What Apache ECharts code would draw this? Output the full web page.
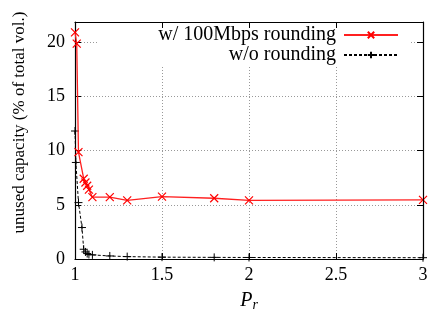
<!DOCTYPE html>
<html>
<head>
<meta charset="utf-8">
<script src="https://cdn.jsdelivr.net/npm/echarts@6/dist/echarts.min.js"></script>
<style>
  html, body { margin: 0; padding: 0; background: #fff; }
  #chart { width: 433px; height: 320px; }
</style>
</head>
<body>
<div id="chart"></div>
<script>
// values
const roundedPr = [1.0, 1.01, 1.02, 1.05, 1.06, 1.07, 1.08, 1.1, 1.2, 1.3, 1.5, 1.8, 2.0, 3.0];
const roundedUnused = [20.9, 19.85, 9.85, 7.4, 7.05, 6.75, 6.4, 5.7, 5.7, 5.4, 5.75, 5.6, 5.4, 5.45];

const exactPr = [1.0, 1.005, 1.02, 1.04, 1.05, 1.06, 1.07, 1.08, 1.1, 1.2, 1.3, 1.5, 1.8, 2.0, 3.0];
const exactUnused = [11.8, 8.9, 5.2, 2.9, 0.9, 0.65, 0.5, 0.42, 0.38, 0.28, 0.22, 0.17, 0.15, 0.14, 0.12];

const seriesNames = ['w/ 100Mbps rounding', 'w/o rounding'];

const FONT = '"Liberation Serif", "DejaVu Serif", serif';
const crossSymbol = 'path://M0 0L10 10M10 0L0 10';
const plusSymbol = 'path://M5 0L5 10M0 5L10 5';

const chart = echarts.init(document.getElementById('chart'));

const pairs = (xs, ys) => xs.map((x, i) => [x, ys[i]]);

const tickStyle = { show: true, inside: true, length: 6, lineStyle: { color: '#000', width: 1 } };

const legendText = { fontFamily: FONT, fontSize: 20, color: '#000', lineHeight: 20, padding: [0, 3, 0, 0] };

const option = {
  backgroundColor: '#fff',
  animation: false,
  grid: { left: 75, right: 10, top: 22, bottom: 61, containLabel: false },
  graphic: [
    // opaque key box (hides the grid behind the legend, as gnuplot does)
    { type: 'rect', z: 1, shape: { x: 97, y: 23, width: 313, height: 44 }, style: { fill: '#fff' } }
  ],
  legend: [
    {
      data: [seriesNames[0]], orient: 'vertical', align: 'right', right: 34, top: 25, padding: 0,
      itemWidth: 54, itemHeight: 8, z: 6, textStyle: legendText
    },
    {
      data: [seriesNames[1]], orient: 'vertical', align: 'right', right: 34, top: 45, padding: 0,
      itemWidth: 54, itemHeight: 8, z: 6, textStyle: legendText
    }
  ],
  xAxis: [
    {
      type: 'value', min: 1, max: 3, interval: 0.5,
      name: '{i|P}{s|r}', nameLocation: 'middle', nameGap: 31,
      nameTextStyle: {
        rich: {
          i: { fontFamily: FONT, fontSize: 20, fontStyle: 'italic', color: '#000' },
          s: { fontFamily: FONT, fontSize: 14, fontStyle: 'italic', color: '#000', padding: [8, 0, 0, 0] }
        }
      },
      axisLine: { show: true, lineStyle: { color: '#000', width: 1.2 } },
      axisTick: tickStyle,
      axisLabel: { fontFamily: FONT, fontSize: 18, color: '#000', margin: 7 },
      splitLine: { show: true, lineStyle: { color: '#999', type: [1, 2], width: 1 } }
    },
    {
      type: 'value', position: 'top', min: 1, max: 3, interval: 0.5, z: 5,
      axisLine: { show: true, onZero: false, lineStyle: { color: '#000', width: 1.2 } },
      axisTick: tickStyle,
      axisLabel: { show: false },
      splitLine: { show: false }
    }
  ],
  yAxis: [
    {
      type: 'value', min: 0, max: 21.85, interval: 5,
      name: 'unused capacity (% of total vol.)', nameLocation: 'middle', nameGap: 47,
      nameTextStyle: { fontFamily: FONT, fontSize: 17, color: '#000', padding: [0, 0, 0, 36] },
      axisLine: { show: true, lineStyle: { color: '#000', width: 1.2 } },
      axisTick: tickStyle,
      axisLabel: { fontFamily: FONT, fontSize: 18, color: '#000', margin: 10, showMaxLabel: false },
      splitLine: { show: true, lineStyle: { color: '#999', type: [1, 2], width: 1 } }
    },
    {
      type: 'value', position: 'right', min: 0, max: 21.85, interval: 5, z: 5,
      axisLine: { show: true, onZero: false, lineStyle: { color: '#000', width: 1.2 } },
      axisTick: tickStyle,
      axisLabel: { show: false },
      splitLine: { show: false }
    }
  ],
  series: [
    {
      name: seriesNames[0], type: 'line', z: 4,
      data: pairs(roundedPr, roundedUnused),
      symbol: crossSymbol, symbolSize: 8, showAllSymbol: true,
      lineStyle: { color: '#ff2020', width: 1.3 },
      itemStyle: { color: 'rgba(0,0,0,0)', borderColor: '#ff0000', borderWidth: 1.2 }
    },
    {
      name: seriesNames[1], type: 'line', z: 3,
      data: pairs(exactPr, exactUnused),
      symbol: plusSymbol, symbolSize: 8, showAllSymbol: true,
      lineStyle: { color: '#000', width: 1, type: [3, 2] },
      itemStyle: { color: 'rgba(0,0,0,0)', borderColor: '#000', borderWidth: 1 }
    }
  ]
};

chart.setOption(option);
</script>
</body>
</html>
